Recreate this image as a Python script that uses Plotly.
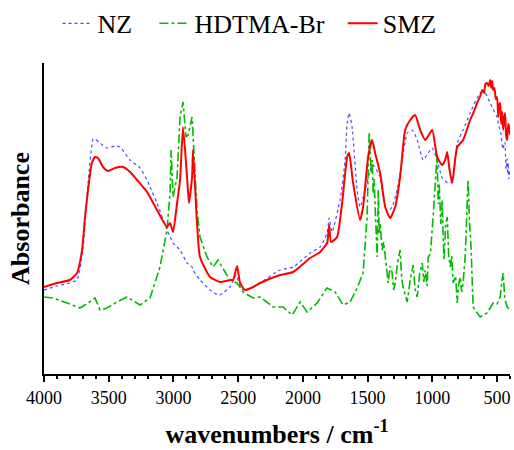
import plotly.graph_objects as go

# Wavenumbers (cm^-1) and absorbance (arbitrary units)
nz_wn = [4000, 3900, 3800, 3745, 3700, 3660, 3620, 3606, 3567, 3513, 3451, 3413, 3335, 3258,
         3204, 3181, 3127, 3050, 3026, 3003, 2949, 2895, 2856, 2849, 2795, 2717, 2655, 2640,
         2563, 2516, 2485, 2462, 2385, 2330, 2176, 2075, 1944, 1867, 1813, 1797, 1775, 1713,
         1674, 1658, 1643, 1620, 1581, 1558, 1519, 1480, 1465, 1457, 1418, 1403, 1380, 1350,
         1311, 1272, 1233, 1194, 1156, 1117, 1071, 1032, 1001, 963, 924, 878, 847, 808, 762,
         708, 631, 592, 553, 520, 500, 490, 470, 455, 440, 430, 422, 418, 414, 410, 400]
nz_ab = [84, 88, 91, 94, 124, 191, 235, 235, 231, 226, 228, 227, 214, 206,
         194, 187, 171, 144, 137, 131, 124, 111, 107, 104, 94, 84, 79, 79,
         87, 99, 87, 84, 87, 91, 104, 107, 121, 127, 141, 156, 142, 174,
         214, 251, 261, 247, 184, 167, 184, 204, 209, 209, 201, 197, 177, 162,
         167, 184, 214, 241, 244, 234, 214, 221, 226, 214, 196, 191, 192, 231, 244,
         261, 281, 281, 271, 262, 257, 250, 240, 225, 232, 205, 215, 200, 211, 195, 205]

hd_wn = [4000, 3930, 3822, 3722, 3660, 3606, 3567, 3513, 3436, 3359, 3258, 3181, 3104, 3050,
         3026, 3018, 3003, 2972, 2949, 2926, 2903, 2887, 2856, 2849, 2818, 2795, 2741, 2694,
         2655, 2625, 2563, 2509, 2462, 2385, 2330, 2230, 2153, 2083, 2021, 1967, 1890, 1813,
         1751, 1689, 1635, 1581, 1535, 1504, 1488, 1472, 1465, 1457, 1449, 1442, 1434, 1426,
         1418, 1410, 1403, 1395, 1388, 1376, 1364, 1352, 1341, 1326, 1311, 1299, 1287, 1268,
         1249, 1237, 1226, 1194, 1170, 1148, 1133, 1117, 1098, 1078, 1066, 1055, 1040, 1032,
         1015, 994, 978, 963, 955, 947, 935, 924, 916, 909, 897, 885, 874, 862, 850, 839,
         820, 808, 796, 785, 773, 762, 745, 731, 724, 712, 700, 685, 631, 577, 530, 500,
         476, 465, 453, 440, 422, 398]
hd_ab = [77, 76, 71, 66, 71, 76, 64, 66, 72, 77, 69, 76, 107, 144,
         181, 224, 177, 197, 257, 272, 237, 239, 257, 237, 164, 137, 117, 107,
         114, 107, 94, 91, 82, 76, 77, 67, 67, 59, 72, 62, 71, 86,
         82, 69, 72, 86, 101, 157, 242, 200, 214, 180, 195, 167, 140, 117,
         184, 140, 151, 128, 124, 132, 117, 100, 91, 108, 101, 84, 91, 112,
         124, 96, 87, 72, 95, 109, 85, 77, 100, 111, 92, 104, 88, 117,
         120, 157, 190, 219, 170, 191, 150, 174, 135, 114, 150, 157, 120, 107, 118, 91,
         98, 71, 90, 97, 82, 91, 120, 181, 194, 150, 124, 67, 57, 61, 71, 70,
         77, 90, 101, 75, 67, 64]

smz_wn = [4000, 3900, 3800, 3745, 3706, 3683, 3660, 3630, 3606, 3583, 3544, 3505, 3451, 3390,
          3335, 3281, 3204, 3127, 3050, 3026, 3003, 2972, 2949, 2926, 2895, 2880, 2856, 2849,
          2818, 2795, 2717, 2640, 2563, 2539, 2509, 2485, 2447, 2385, 2330, 2176, 2075, 1944,
          1867, 1813, 1797, 1782, 1736, 1697, 1658, 1643, 1612, 1558, 1535, 1496, 1465, 1442,
          1403, 1364, 1326, 1287, 1249, 1210, 1171, 1133, 1094, 1055, 1001, 963, 924, 901,
          885, 870, 847, 808, 762, 708, 680, 654, 630, 615, 600, 590, 577, 565, 553, 545,
          538, 530, 520, 510, 500, 491, 485, 476, 468, 460, 453, 446, 438, 430, 422, 414,
          406, 400]
smz_ab = [87, 91, 94, 101, 124, 157, 184, 211, 217, 216, 207, 203, 206, 207,
          202, 194, 182, 164, 147, 151, 142, 171, 194, 247, 197, 171, 197, 224,
          151, 117, 97, 92, 94, 94, 108, 91, 84, 87, 91, 99, 102, 116,
          122, 131, 149, 132, 137, 171, 217, 221, 191, 154, 167, 217, 234, 221,
          201, 167, 156, 167, 197, 244, 254, 259, 244, 234, 244, 217, 209, 214,
          222, 207, 191, 227, 234, 254, 262, 271, 278, 284, 281, 290, 291, 288, 294, 286,
          293, 284, 286, 275, 277, 257, 268, 271, 250, 262, 244, 255, 261, 238, 234, 250,
          247, 239]

serif = "Liberation Serif, Times New Roman, serif"
legend_font = dict(family=serif, size=26, color="black")

fig = go.Figure()
fig.add_trace(go.Scatter(x=nz_wn, y=nz_ab, mode="lines", name="NZ", legend="legend",
                         line=dict(color="#4a4aff", width=1.2, dash="dot", shape="spline", smoothing=0.5)))
fig.add_trace(go.Scatter(x=hd_wn, y=hd_ab, mode="lines", name="HDTMA-Br", legend="legend2",
                         line=dict(color="#00bb00", width=1.6, dash="dashdot")))
fig.add_trace(go.Scatter(x=smz_wn, y=smz_ab, mode="lines", name="SMZ", legend="legend3",
                         line=dict(color="#ff0000", width=2, shape="spline", smoothing=0.5)))

leg_common = dict(orientation="h", yref="container", y=0.948, yanchor="middle", xanchor="left",
                  font=legend_font, bgcolor="rgba(0,0,0,0)", borderwidth=0)

fig.update_layout(
    width=514, height=450,
    margin=dict(l=44, r=4, t=63, b=76, autoexpand=False),
    paper_bgcolor="white", plot_bgcolor="white",
    font=dict(family=serif, color="black"),
    showlegend=True,
    legend=dict(x=0.029, **leg_common),
    legend2=dict(x=0.237, **leg_common),
    legend3=dict(x=0.641, **leg_common),
)
fig.update_xaxes(
    range=[4000, 400], showgrid=False, zeroline=False,
    showline=True, linecolor="black", linewidth=2,
    ticks="outside", ticklen=6, tickwidth=2, tickcolor="black",
    tick0=0, dtick=500, tickfont=dict(family=serif, size=18),
    minor=dict(ticks="outside", ticklen=3, tickwidth=1.5, tickcolor="black", dtick=100, tick0=0),
    title=dict(text="<b>wavenumbers / cm<sup>-1</sup></b>", font=dict(family=serif, size=26),
               standoff=18),
)
fig.update_yaxes(
    range=[0, 311], showgrid=False, zeroline=False,
    showline=True, linecolor="black", linewidth=2,
    ticks="", showticklabels=False,
    title=dict(text="<b>Absorbance</b>", font=dict(family=serif, size=26), standoff=5),
)

fig.write_html("out.html")
